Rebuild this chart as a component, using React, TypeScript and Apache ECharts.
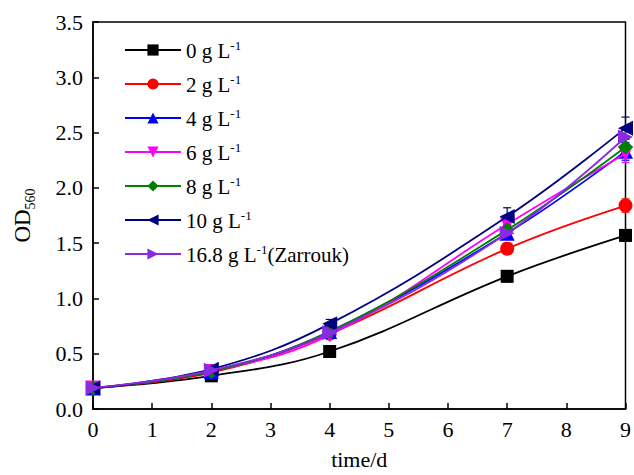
import React, { useEffect, useRef } from "react";
import * as echarts from "echarts";

const days = [0, 2, 4, 7, 9];
const seriesNames = ["0", "2", "4", "6", "8", "10", "16.8"];
const od0 = [0.19, 0.30, 0.52, 1.20, 1.57];
const od2 = [0.19, 0.33, 0.68, 1.45, 1.84];
const od4 = [0.19, 0.34, 0.70, 1.59, 2.33];
const od6 = [0.19, 0.34, 0.67, 1.67, 2.31];
const od8 = [0.19, 0.34, 0.70, 1.62, 2.37];
const od10 = [0.19, 0.36, 0.77, 1.74, 2.54];
const od168 = [0.19, 0.35, 0.69, 1.59, 2.46];
const err0 = [0.03, 0.02, 0.03, 0.05, 0.05];
const err2 = [0.03, 0.02, 0.03, 0.05, 0.06];
const err4 = [0.04, 0.03, 0.04, 0.05, 0.08];
const err6 = [0.03, 0.02, 0.03, 0.05, 0.08];
const err8 = [0.03, 0.02, 0.03, 0.05, 0.07];
const err10 = [0.03, 0.03, 0.04, 0.08, 0.10];
const err168 = [0.03, 0.03, 0.04, 0.05, 0.07];

const values = [od0, od2, od4, od6, od8, od10, od168];
const errors = [err0, err2, err4, err6, err8, err10, err168];
const colors = ["#000000", "#ff0000", "#0000ff", "#ff00ff", "#008000", "#000080", "#8a2be2"];
const symbols = [
  "rect",
  "circle",
  "triangle",
  "path://M0,0 L10,0 L5,9 Z",
  "diamond",
  "path://M0,5 L9,0 L9,10 Z",
  "path://M0,0 L9,5 L0,10 Z",
];
const symbolSizes = [13, 14, 15, 15, 15, 15, 15];

export default function App() {
  const ref = useRef<HTMLDivElement>(null);
  useEffect(() => {
    if (!ref.current) return;
    document.body.style.margin = "0";
    const chart = echarts.init(ref.current, null, { renderer: "svg" });
    const font = "Liberation Serif";
    const lineSeries = seriesNames.map((name, i) => ({
      name,
      type: "line",
      smooth: 0.4,
      data: days.map((d, j) => [d, values[i][j]]),
      symbol: symbols[i],
      symbolSize: symbolSizes[i],
      showSymbol: true,
      lineStyle: { color: colors[i], width: 1.8 },
      itemStyle: { color: colors[i] },
      z: 3 + i,
    }));
    const errSeries = seriesNames.map((name, i) => ({
      name: name + "_err",
      type: "custom",
      data: days.map((d, j) => [d, values[i][j], errors[i][j]]),
      z: 2,
      renderItem: (params: any, api: any) => {
        const x = api.value(0);
        const y = api.value(1);
        const e = api.value(2);
        const top = api.coord([x, y + e]);
        const bot = api.coord([x, y - e]);
        const style = { stroke: colors[i], lineWidth: 1.2 };
        return {
          type: "group",
          children: [
            { type: "line", shape: { x1: top[0], y1: top[1], x2: bot[0], y2: bot[1] }, style },
            { type: "line", shape: { x1: top[0] - 4, y1: top[1], x2: top[0] + 4, y2: top[1] }, style },
            { type: "line", shape: { x1: bot[0] - 4, y1: bot[1], x2: bot[0] + 4, y2: bot[1] }, style },
          ],
        };
      },
    }));
    chart.setOption({
      animation: false,
      textStyle: { fontFamily: font },
      grid: {
        left: 93,
        right: 8,
        top: 22,
        bottom: 57,
        show: true,
        borderColor: "#000",
        borderWidth: 1.5,
      },
      legend: {
        data: seriesNames,
        orient: "vertical",
        left: 119,
        top: 34,
        itemWidth: 56,
        itemHeight: 14,
        itemGap: 11,
        formatter: (name: string) =>
          name === "16.8" ? "{a|16.8 g L}{s|-1}{a|(Zarrouk)}" : "{a|" + name + " g L}{s|-1}",
        textStyle: {
          fontFamily: font,
          color: "#000",
          rich: {
            a: { fontFamily: font, fontSize: 21, color: "#000", lineHeight: 22, verticalAlign: "bottom" },
            s: { fontFamily: font, fontSize: 13, color: "#000", lineHeight: 22, verticalAlign: "top", padding: [0, 0, 10, 0] },
          },
        },
      },
      xAxis: {
        type: "value",
        min: 0,
        max: 9,
        interval: 1,
        name: "time/d",
        nameLocation: "middle",
        nameGap: 39,
        nameTextStyle: { fontFamily: font, fontSize: 22, color: "#000" },
        axisLine: { show: true, lineStyle: { color: "#000", width: 1.5 } },
        axisTick: { show: true, inside: true, length: 6, lineStyle: { color: "#000", width: 1.5 } },
        axisLabel: { fontFamily: font, fontSize: 22, color: "#000", margin: 9 },
        splitLine: { show: false },
      },
      yAxis: {
        type: "value",
        min: 0,
        max: 3.5,
        interval: 0.5,
        name: "{a|OD}{b|560}",
        nameLocation: "middle",
        nameGap: 56,
        nameRotate: 90,
        nameTextStyle: {
          fontFamily: font,
          color: "#000",
          rich: {
            a: { fontFamily: font, fontSize: 23, color: "#000", lineHeight: 26, verticalAlign: "top" },
            b: { fontFamily: font, fontSize: 14, color: "#000", lineHeight: 26, verticalAlign: "bottom", padding: [10, 0, 0, 0] },
          },
        },
        axisLine: { show: true, lineStyle: { color: "#000", width: 1.5 } },
        axisTick: { show: true, inside: true, length: 6, lineStyle: { color: "#000", width: 1.5 } },
        axisLabel: {
          fontFamily: font,
          fontSize: 22,
          color: "#000",
          margin: 10,
          formatter: (v: number) => v.toFixed(1),
        },
        splitLine: { show: false },
      },
      series: [...errSeries, ...lineSeries],
    });
    return () => chart.dispose();
  }, []);
  return <div ref={ref} style={{ width: 634, height: 475 }} />;
}
